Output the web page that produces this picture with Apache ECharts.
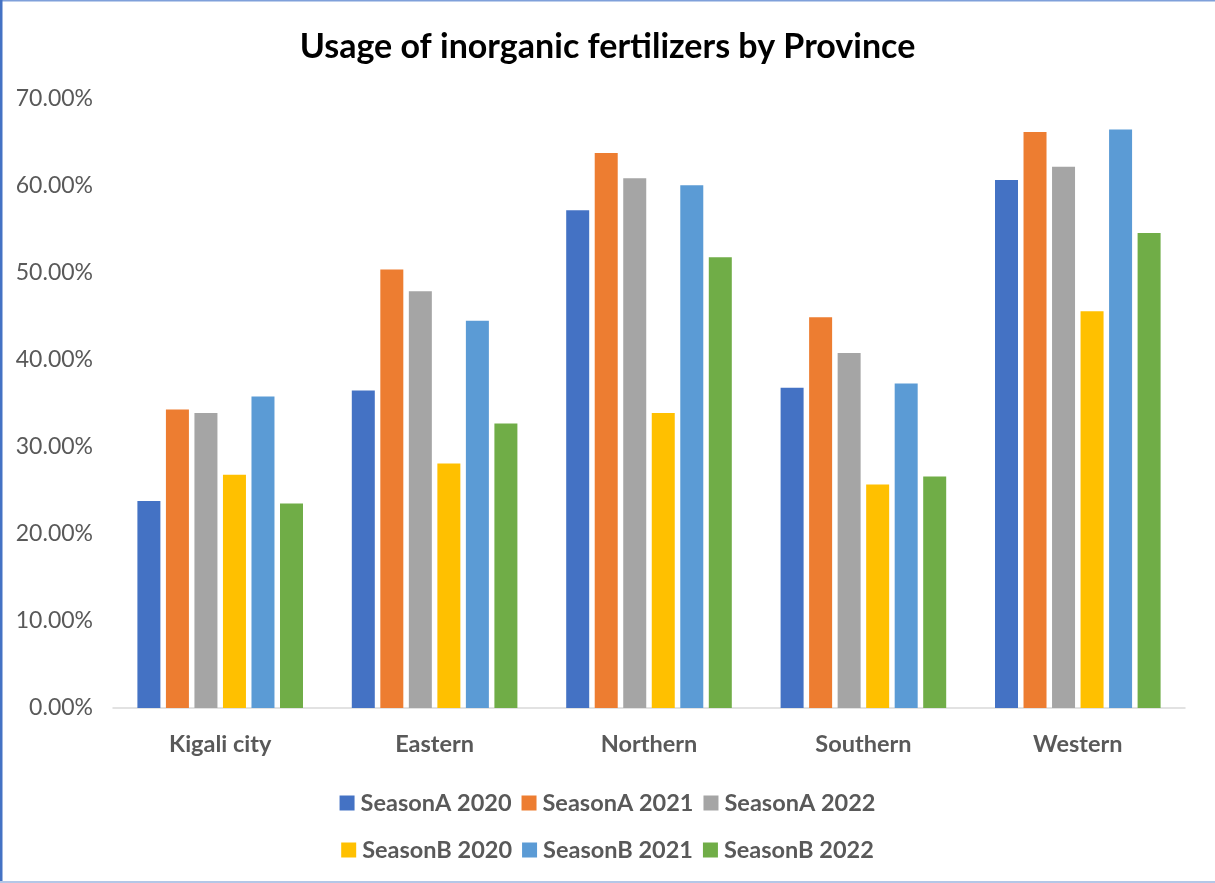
<!DOCTYPE html>
<html><head><meta charset="utf-8">
<script src="https://cdn.jsdelivr.net/npm/echarts@6/dist/echarts.min.js"></script>
<style>html,body{margin:0;padding:0;background:#fff}#c{width:1215px;height:883px}</style>
</head><body><div id="c"></div>
<script>
const categories = ['Kigali city', 'Eastern', 'Northern', 'Southern', 'Western'];
const seriesNames = ['SeasonA 2020', 'SeasonA 2021', 'SeasonA 2022', 'SeasonB 2020', 'SeasonB 2021', 'SeasonB 2022'];
const seasonA2020 = [23.8, 36.5, 57.2, 36.8, 60.7];
const seasonA2021 = [34.3, 50.4, 63.8, 44.9, 66.2];
const seasonA2022 = [33.9, 47.9, 60.9, 40.8, 62.2];
const seasonB2020 = [26.8, 28.1, 33.9, 25.7, 45.6];
const seasonB2021 = [35.8, 44.5, 60.1, 37.3, 66.5];
const seasonB2022 = [23.5, 32.7, 51.8, 26.6, 54.6];
const yTicks = [0, 10, 20, 30, 40, 50, 60, 70];
const colors = ['#4472C4', '#ED7D31', '#A5A5A5', '#FFC000', '#5B9BD5', '#70AD47'];

const values = [seasonA2020, seasonA2021, seasonA2022, seasonB2020, seasonB2021, seasonB2022];
const font = 'Lato, "Open Sans", sans-serif';
const legendText = {fontFamily: font, fontWeight: 'bold', fontSize: 23.5, color: '#595959', padding: [0,0,0,1]};
const legendBase = {left: 'center', itemWidth: 15, itemHeight: 15, itemGap: 10, icon: 'rect', textStyle: legendText};
const chart = echarts.init(document.getElementById('c'), null, {renderer: 'canvas'});
chart.setOption({
  animation: false,
  backgroundColor: '#fff',
  color: colors,
  title: {
    text: 'Usage of inorganic fertilizers by Province',
    left: 'center', top: 25,
    textStyle: {fontFamily: font, fontWeight: 'bold', fontSize: 34, color: '#000'}
  },
  grid: {left: 113, right: 30, top: 99, bottom: 175, containLabel: false},
  legend: [
    Object.assign({data: seriesNames.slice(0, 3), top: 786}, legendBase),
    Object.assign({data: seriesNames.slice(3), top: 833}, legendBase)
  ],
  xAxis: {
    type: 'category', data: categories,
    axisLine: {lineStyle: {color: '#D9D9D9', width: 1.5}},
    axisTick: {show: false},
    axisLabel: {fontFamily: font, fontWeight: 'bold', fontSize: 23.5, color: '#595959', margin: 24}
  },
  yAxis: {
    type: 'value', min: 0, max: 70, interval: 10,
    axisLine: {show: false}, axisTick: {show: false},
    splitLine: {show: false},
    axisLabel: {fontFamily: font, fontSize: 23, color: '#595959', margin: 20,
      formatter: v => yTicks.includes(v) ? v.toFixed(2) + '%' : ''}
  },
  series: seriesNames.map((n, i) => ({
    name: n, type: 'bar', data: values[i],
    barWidth: 23, barGap: '24%',
    itemStyle: {borderColor: '#fff', borderWidth: 0}
  })),
  graphic: [
    {type: 'rect', shape: {x: 0, y: 0, width: 1215, height: 1.5}, style: {fill: '#7FA0DA'}},
    {type: 'rect', shape: {x: 0, y: 0, width: 2.5, height: 883}, style: {fill: '#4472C4'}},
    {type: 'rect', shape: {x: 0, y: 881, width: 1215, height: 2}, style: {fill: '#B4C7E7'}}
  ]
});
</script></body></html>
